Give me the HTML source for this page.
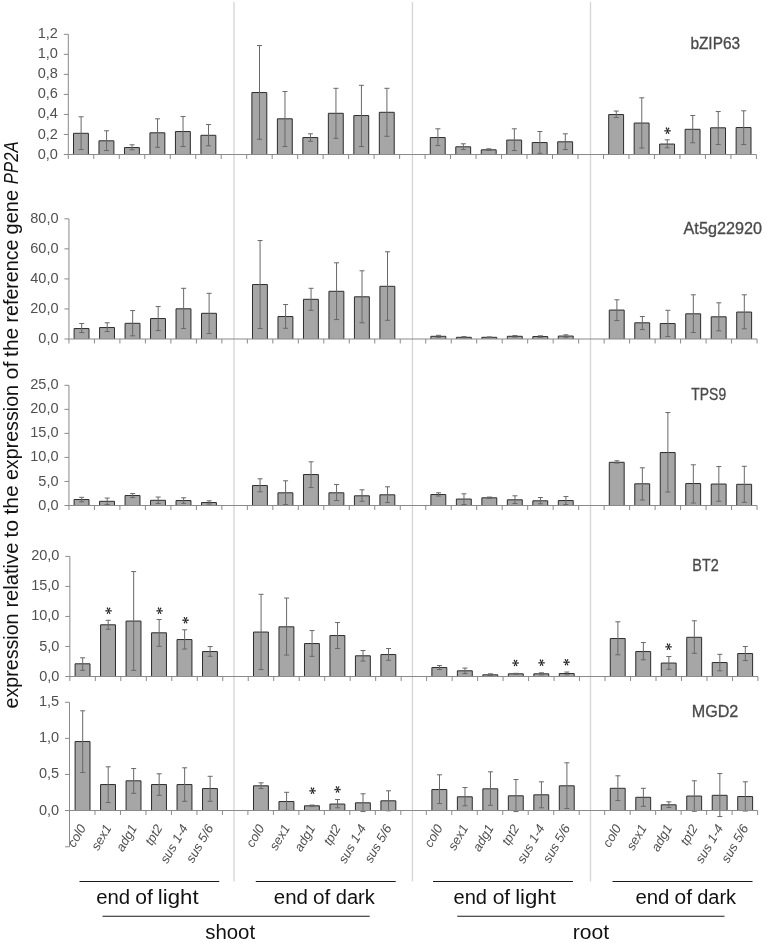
<!DOCTYPE html>
<html lang="en">
<head>
<meta charset="utf-8">
<title>Expression relative to PP2A</title>
<style>
html,body{margin:0;padding:0;background:#fff;}
body{width:767px;height:943px;overflow:hidden;font-family:"Liberation Sans",sans-serif;}
svg{display:block;}
</style>
</head>
<body>
<svg width="767" height="943" viewBox="0 0 767 943" font-family="'Liberation Sans', sans-serif">
<rect width="767" height="943" fill="#ffffff"/>
<line x1="234.0" y1="2" x2="234.0" y2="881.4" stroke="#d6d6d6" stroke-width="1.35"/>
<line x1="412.45" y1="2" x2="412.45" y2="881.4" stroke="#d6d6d6" stroke-width="1.35"/>
<line x1="590.5" y1="2" x2="590.5" y2="881.4" stroke="#d6d6d6" stroke-width="1.35"/>
<g>
<rect x="73.50" y="133.30" width="14.9" height="21.20" fill="#a6a6a6"/>
<path d="M73.50 154.50V133.30H88.40V154.50" stroke="#2c2c2c" stroke-width="1" fill="none" stroke-linejoin="miter"/>
<path d="M81.10 116.80V149.55M78.60 116.80h5M78.60 149.55h5" stroke="#686868" stroke-width="1" fill="none"/>
<rect x="98.98" y="140.80" width="14.9" height="13.70" fill="#a6a6a6"/>
<path d="M98.98 154.50V140.80H113.89V154.50" stroke="#2c2c2c" stroke-width="1" fill="none" stroke-linejoin="miter"/>
<path d="M106.59 130.80V150.55M104.09 130.80h5M104.09 150.55h5" stroke="#686868" stroke-width="1" fill="none"/>
<rect x="124.47" y="147.55" width="14.9" height="6.95" fill="#a6a6a6"/>
<path d="M124.47 154.50V147.55H139.37V154.50" stroke="#2c2c2c" stroke-width="1" fill="none" stroke-linejoin="miter"/>
<path d="M132.07 144.80V149.80M129.57 144.80h5M129.57 149.80h5" stroke="#686868" stroke-width="1" fill="none"/>
<rect x="149.95" y="132.80" width="14.9" height="21.70" fill="#a6a6a6"/>
<path d="M149.95 154.50V132.80H164.85V154.50" stroke="#2c2c2c" stroke-width="1" fill="none" stroke-linejoin="miter"/>
<path d="M157.55 118.80V147.30M155.05 118.80h5M155.05 147.30h5" stroke="#686868" stroke-width="1" fill="none"/>
<rect x="175.44" y="131.55" width="14.9" height="22.95" fill="#a6a6a6"/>
<path d="M175.44 154.50V131.55H190.34V154.50" stroke="#2c2c2c" stroke-width="1" fill="none" stroke-linejoin="miter"/>
<path d="M183.04 116.55V146.55M180.54 116.55h5M180.54 146.55h5" stroke="#686868" stroke-width="1" fill="none"/>
<rect x="200.93" y="135.30" width="14.9" height="19.20" fill="#a6a6a6"/>
<path d="M200.93 154.50V135.30H215.83V154.50" stroke="#2c2c2c" stroke-width="1" fill="none" stroke-linejoin="miter"/>
<path d="M208.53 124.55V145.80M206.03 124.55h5M206.03 145.80h5" stroke="#686868" stroke-width="1" fill="none"/>
<rect x="251.89" y="92.55" width="14.9" height="61.95" fill="#a6a6a6"/>
<path d="M251.89 154.50V92.55H266.79V154.50" stroke="#2c2c2c" stroke-width="1" fill="none" stroke-linejoin="miter"/>
<path d="M259.49 45.55V139.30M256.99 45.55h5M256.99 139.30h5" stroke="#686868" stroke-width="1" fill="none"/>
<rect x="277.38" y="118.80" width="14.9" height="35.70" fill="#a6a6a6"/>
<path d="M277.38 154.50V118.80H292.28V154.50" stroke="#2c2c2c" stroke-width="1" fill="none" stroke-linejoin="miter"/>
<path d="M284.98 91.55V146.55M282.48 91.55h5M282.48 146.55h5" stroke="#686868" stroke-width="1" fill="none"/>
<rect x="302.87" y="137.55" width="14.9" height="16.95" fill="#a6a6a6"/>
<path d="M302.87 154.50V137.55H317.76V154.50" stroke="#2c2c2c" stroke-width="1" fill="none" stroke-linejoin="miter"/>
<path d="M310.46 133.80V141.30M307.96 133.80h5M307.96 141.30h5" stroke="#686868" stroke-width="1" fill="none"/>
<rect x="328.35" y="113.30" width="14.9" height="41.20" fill="#a6a6a6"/>
<path d="M328.35 154.50V113.30H343.25V154.50" stroke="#2c2c2c" stroke-width="1" fill="none" stroke-linejoin="miter"/>
<path d="M335.95 88.30V138.30M333.45 88.30h5M333.45 138.30h5" stroke="#686868" stroke-width="1" fill="none"/>
<rect x="353.83" y="115.55" width="14.9" height="38.95" fill="#a6a6a6"/>
<path d="M353.83 154.50V115.55H368.73V154.50" stroke="#2c2c2c" stroke-width="1" fill="none" stroke-linejoin="miter"/>
<path d="M361.43 85.30V146.55M358.93 85.30h5M358.93 146.55h5" stroke="#686868" stroke-width="1" fill="none"/>
<rect x="379.32" y="112.30" width="14.9" height="42.20" fill="#a6a6a6"/>
<path d="M379.32 154.50V112.30H394.22V154.50" stroke="#2c2c2c" stroke-width="1" fill="none" stroke-linejoin="miter"/>
<path d="M386.92 88.30V136.30M384.42 88.30h5M384.42 136.30h5" stroke="#686868" stroke-width="1" fill="none"/>
<rect x="430.29" y="137.55" width="14.9" height="16.95" fill="#a6a6a6"/>
<path d="M430.29 154.50V137.55H445.19V154.50" stroke="#2c2c2c" stroke-width="1" fill="none" stroke-linejoin="miter"/>
<path d="M437.89 128.80V145.55M435.39 128.80h5M435.39 145.55h5" stroke="#686868" stroke-width="1" fill="none"/>
<rect x="455.77" y="146.80" width="14.9" height="7.70" fill="#a6a6a6"/>
<path d="M455.77 154.50V146.80H470.67V154.50" stroke="#2c2c2c" stroke-width="1" fill="none" stroke-linejoin="miter"/>
<path d="M463.37 143.80V149.55M460.87 143.80h5M460.87 149.55h5" stroke="#686868" stroke-width="1" fill="none"/>
<rect x="481.26" y="149.80" width="14.9" height="4.70" fill="#a6a6a6"/>
<path d="M481.26 154.50V149.80H496.16V154.50" stroke="#2c2c2c" stroke-width="1" fill="none" stroke-linejoin="miter"/>
<path d="M488.86 148.80V150.50M486.36 148.80h5M486.36 150.50h5" stroke="#686868" stroke-width="1" fill="none"/>
<rect x="506.75" y="140.05" width="14.9" height="14.45" fill="#a6a6a6"/>
<path d="M506.75 154.50V140.05H521.64V154.50" stroke="#2c2c2c" stroke-width="1" fill="none" stroke-linejoin="miter"/>
<path d="M514.35 128.80V150.55M511.85 128.80h5M511.85 150.55h5" stroke="#686868" stroke-width="1" fill="none"/>
<rect x="532.23" y="142.55" width="14.9" height="11.95" fill="#a6a6a6"/>
<path d="M532.23 154.50V142.55H547.13V154.50" stroke="#2c2c2c" stroke-width="1" fill="none" stroke-linejoin="miter"/>
<path d="M539.83 131.55V153.30M537.33 131.55h5M537.33 153.30h5" stroke="#686868" stroke-width="1" fill="none"/>
<rect x="557.71" y="141.80" width="14.9" height="12.70" fill="#a6a6a6"/>
<path d="M557.71 154.50V141.80H572.61V154.50" stroke="#2c2c2c" stroke-width="1" fill="none" stroke-linejoin="miter"/>
<path d="M565.31 133.80V149.55M562.81 133.80h5M562.81 149.55h5" stroke="#686868" stroke-width="1" fill="none"/>
<rect x="608.68" y="114.55" width="14.9" height="39.95" fill="#a6a6a6"/>
<path d="M608.68 154.50V114.55H623.58V154.50" stroke="#2c2c2c" stroke-width="1" fill="none" stroke-linejoin="miter"/>
<path d="M616.28 111.05V117.55M613.78 111.05h5M613.78 117.55h5" stroke="#686868" stroke-width="1" fill="none"/>
<rect x="634.17" y="123.05" width="14.9" height="31.45" fill="#a6a6a6"/>
<path d="M634.17 154.50V123.05H649.07V154.50" stroke="#2c2c2c" stroke-width="1" fill="none" stroke-linejoin="miter"/>
<path d="M641.77 97.80V148.05M639.27 97.80h5M639.27 148.05h5" stroke="#686868" stroke-width="1" fill="none"/>
<rect x="659.65" y="144.05" width="14.9" height="10.45" fill="#a6a6a6"/>
<path d="M659.65 154.50V144.05H674.55V154.50" stroke="#2c2c2c" stroke-width="1" fill="none" stroke-linejoin="miter"/>
<path d="M667.25 139.80V147.80M664.75 139.80h5M664.75 147.80h5" stroke="#686868" stroke-width="1" fill="none"/>
<rect x="685.14" y="129.30" width="14.9" height="25.20" fill="#a6a6a6"/>
<path d="M685.14 154.50V129.30H700.04V154.50" stroke="#2c2c2c" stroke-width="1" fill="none" stroke-linejoin="miter"/>
<path d="M692.74 115.55V142.80M690.24 115.55h5M690.24 142.80h5" stroke="#686868" stroke-width="1" fill="none"/>
<rect x="710.62" y="127.80" width="14.9" height="26.70" fill="#a6a6a6"/>
<path d="M710.62 154.50V127.80H725.52V154.50" stroke="#2c2c2c" stroke-width="1" fill="none" stroke-linejoin="miter"/>
<path d="M718.23 111.55V144.55M715.73 111.55h5M715.73 144.55h5" stroke="#686868" stroke-width="1" fill="none"/>
<rect x="736.11" y="127.55" width="14.9" height="26.95" fill="#a6a6a6"/>
<path d="M736.11 154.50V127.55H751.01V154.50" stroke="#2c2c2c" stroke-width="1" fill="none" stroke-linejoin="miter"/>
<path d="M743.71 110.80V144.55M741.21 110.80h5M741.21 144.55h5" stroke="#686868" stroke-width="1" fill="none"/>
<path d="M68.30 34.30V154.50M68.30 154.50H756.39M63.80 154.50h4.5M63.80 134.47h4.5M63.80 114.44h4.5M63.80 94.41h4.5M63.80 74.38h4.5M63.80 54.35h4.5M63.80 34.32h4.5M68.30 154.50v4.5M93.78 154.50v4.5M119.27 154.50v4.5M144.75 154.50v4.5M170.24 154.50v4.5M195.72 154.50v4.5M221.21 154.50v4.5M246.69 154.50v4.5M272.18 154.50v4.5M297.67 154.50v4.5M323.15 154.50v4.5M348.63 154.50v4.5M374.12 154.50v4.5M399.61 154.50v4.5M425.09 154.50v4.5M450.57 154.50v4.5M476.06 154.50v4.5M501.55 154.50v4.5M527.03 154.50v4.5M552.51 154.50v4.5M578.00 154.50v4.5M603.48 154.50v4.5M628.97 154.50v4.5M654.45 154.50v4.5M679.94 154.50v4.5M705.42 154.50v4.5M730.91 154.50v4.5M756.39 154.50v4.5" stroke="#8a8a8a" stroke-width="1" fill="none"/>
<text x="57.90" y="158.55" font-size="15.2" fill="#505050" text-anchor="end" textLength="20.22" lengthAdjust="spacingAndGlyphs">0,0</text>
<text x="57.90" y="138.52" font-size="15.2" fill="#505050" text-anchor="end" textLength="20.22" lengthAdjust="spacingAndGlyphs">0,2</text>
<text x="57.90" y="118.49" font-size="15.2" fill="#505050" text-anchor="end" textLength="20.22" lengthAdjust="spacingAndGlyphs">0,4</text>
<text x="57.90" y="98.46" font-size="15.2" fill="#505050" text-anchor="end" textLength="20.22" lengthAdjust="spacingAndGlyphs">0,6</text>
<text x="57.90" y="78.43" font-size="15.2" fill="#505050" text-anchor="end" textLength="20.22" lengthAdjust="spacingAndGlyphs">0,8</text>
<text x="57.90" y="58.40" font-size="15.2" fill="#505050" text-anchor="end" textLength="20.22" lengthAdjust="spacingAndGlyphs">1,0</text>
<text x="57.90" y="38.37" font-size="15.2" fill="#505050" text-anchor="end" textLength="20.22" lengthAdjust="spacingAndGlyphs">1,2</text>
</g>
<g>
<rect x="74.10" y="328.55" width="14.9" height="10.45" fill="#a6a6a6"/>
<path d="M74.10 339.00V328.55H89.00V339.00" stroke="#2c2c2c" stroke-width="1" fill="none" stroke-linejoin="miter"/>
<path d="M81.70 323.55V332.55M79.20 323.55h5M79.20 332.55h5" stroke="#686868" stroke-width="1" fill="none"/>
<rect x="99.58" y="327.55" width="14.9" height="11.45" fill="#a6a6a6"/>
<path d="M99.58 339.00V327.55H114.48V339.00" stroke="#2c2c2c" stroke-width="1" fill="none" stroke-linejoin="miter"/>
<path d="M107.19 322.80V331.55M104.69 322.80h5M104.69 331.55h5" stroke="#686868" stroke-width="1" fill="none"/>
<rect x="125.07" y="323.30" width="14.9" height="15.70" fill="#a6a6a6"/>
<path d="M125.07 339.00V323.30H139.97V339.00" stroke="#2c2c2c" stroke-width="1" fill="none" stroke-linejoin="miter"/>
<path d="M132.67 310.55V335.80M130.17 310.55h5M130.17 335.80h5" stroke="#686868" stroke-width="1" fill="none"/>
<rect x="150.56" y="318.55" width="14.9" height="20.45" fill="#a6a6a6"/>
<path d="M150.56 339.00V318.55H165.46V339.00" stroke="#2c2c2c" stroke-width="1" fill="none" stroke-linejoin="miter"/>
<path d="M158.16 306.55V330.55M155.66 306.55h5M155.66 330.55h5" stroke="#686868" stroke-width="1" fill="none"/>
<rect x="176.04" y="308.80" width="14.9" height="30.20" fill="#a6a6a6"/>
<path d="M176.04 339.00V308.80H190.94V339.00" stroke="#2c2c2c" stroke-width="1" fill="none" stroke-linejoin="miter"/>
<path d="M183.64 288.30V328.55M181.14 288.30h5M181.14 328.55h5" stroke="#686868" stroke-width="1" fill="none"/>
<rect x="201.52" y="313.30" width="14.9" height="25.70" fill="#a6a6a6"/>
<path d="M201.52 339.00V313.30H216.42V339.00" stroke="#2c2c2c" stroke-width="1" fill="none" stroke-linejoin="miter"/>
<path d="M209.12 293.30V333.55M206.62 293.30h5M206.62 333.55h5" stroke="#686868" stroke-width="1" fill="none"/>
<rect x="252.49" y="284.55" width="14.9" height="54.45" fill="#a6a6a6"/>
<path d="M252.49 339.00V284.55H267.39V339.00" stroke="#2c2c2c" stroke-width="1" fill="none" stroke-linejoin="miter"/>
<path d="M260.09 240.55V328.55M257.59 240.55h5M257.59 328.55h5" stroke="#686868" stroke-width="1" fill="none"/>
<rect x="277.98" y="316.55" width="14.9" height="22.45" fill="#a6a6a6"/>
<path d="M277.98 339.00V316.55H292.88V339.00" stroke="#2c2c2c" stroke-width="1" fill="none" stroke-linejoin="miter"/>
<path d="M285.58 304.55V328.30M283.08 304.55h5M283.08 328.30h5" stroke="#686868" stroke-width="1" fill="none"/>
<rect x="303.47" y="299.30" width="14.9" height="39.70" fill="#a6a6a6"/>
<path d="M303.47 339.00V299.30H318.37V339.00" stroke="#2c2c2c" stroke-width="1" fill="none" stroke-linejoin="miter"/>
<path d="M311.06 288.30V310.30M308.56 288.30h5M308.56 310.30h5" stroke="#686868" stroke-width="1" fill="none"/>
<rect x="328.95" y="291.30" width="14.9" height="47.70" fill="#a6a6a6"/>
<path d="M328.95 339.00V291.30H343.85V339.00" stroke="#2c2c2c" stroke-width="1" fill="none" stroke-linejoin="miter"/>
<path d="M336.55 262.80V319.55M334.05 262.80h5M334.05 319.55h5" stroke="#686868" stroke-width="1" fill="none"/>
<rect x="354.43" y="296.80" width="14.9" height="42.20" fill="#a6a6a6"/>
<path d="M354.43 339.00V296.80H369.33V339.00" stroke="#2c2c2c" stroke-width="1" fill="none" stroke-linejoin="miter"/>
<path d="M362.03 270.80V322.80M359.53 270.80h5M359.53 322.80h5" stroke="#686868" stroke-width="1" fill="none"/>
<rect x="379.92" y="286.30" width="14.9" height="52.70" fill="#a6a6a6"/>
<path d="M379.92 339.00V286.30H394.82V339.00" stroke="#2c2c2c" stroke-width="1" fill="none" stroke-linejoin="miter"/>
<path d="M387.52 251.80V320.30M385.02 251.80h5M385.02 320.30h5" stroke="#686868" stroke-width="1" fill="none"/>
<rect x="430.89" y="336.30" width="14.9" height="2.70" fill="#a6a6a6"/>
<path d="M430.89 339.00V336.30H445.79V339.00" stroke="#2c2c2c" stroke-width="1" fill="none" stroke-linejoin="miter"/>
<path d="M438.49 335.30V337.30M435.99 335.30h5M435.99 337.30h5" stroke="#686868" stroke-width="1" fill="none"/>
<rect x="456.38" y="337.30" width="14.9" height="1.70" fill="#a6a6a6"/>
<path d="M456.38 339.00V337.30H471.27V339.00" stroke="#2c2c2c" stroke-width="1" fill="none" stroke-linejoin="miter"/>
<path d="M463.97 336.55V337.80M461.47 336.55h5M461.47 337.80h5" stroke="#686868" stroke-width="1" fill="none"/>
<rect x="481.86" y="337.30" width="14.9" height="1.70" fill="#a6a6a6"/>
<path d="M481.86 339.00V337.30H496.76V339.00" stroke="#2c2c2c" stroke-width="1" fill="none" stroke-linejoin="miter"/>
<path d="M489.46 336.90V337.70M486.96 336.90h5M486.96 337.70h5" stroke="#686868" stroke-width="1" fill="none"/>
<rect x="507.35" y="336.30" width="14.9" height="2.70" fill="#a6a6a6"/>
<path d="M507.35 339.00V336.30H522.25V339.00" stroke="#2c2c2c" stroke-width="1" fill="none" stroke-linejoin="miter"/>
<path d="M514.95 335.55V337.05M512.45 335.55h5M512.45 337.05h5" stroke="#686868" stroke-width="1" fill="none"/>
<rect x="532.83" y="336.55" width="14.9" height="2.45" fill="#a6a6a6"/>
<path d="M532.83 339.00V336.55H547.73V339.00" stroke="#2c2c2c" stroke-width="1" fill="none" stroke-linejoin="miter"/>
<path d="M540.43 335.80V337.30M537.93 335.80h5M537.93 337.30h5" stroke="#686868" stroke-width="1" fill="none"/>
<rect x="558.31" y="336.05" width="14.9" height="2.95" fill="#a6a6a6"/>
<path d="M558.31 339.00V336.05H573.21V339.00" stroke="#2c2c2c" stroke-width="1" fill="none" stroke-linejoin="miter"/>
<path d="M565.91 334.80V337.30M563.41 334.80h5M563.41 337.30h5" stroke="#686868" stroke-width="1" fill="none"/>
<rect x="609.28" y="310.05" width="14.9" height="28.95" fill="#a6a6a6"/>
<path d="M609.28 339.00V310.05H624.18V339.00" stroke="#2c2c2c" stroke-width="1" fill="none" stroke-linejoin="miter"/>
<path d="M616.88 299.80V320.55M614.38 299.80h5M614.38 320.55h5" stroke="#686868" stroke-width="1" fill="none"/>
<rect x="634.77" y="322.80" width="14.9" height="16.20" fill="#a6a6a6"/>
<path d="M634.77 339.00V322.80H649.67V339.00" stroke="#2c2c2c" stroke-width="1" fill="none" stroke-linejoin="miter"/>
<path d="M642.37 316.55V329.55M639.87 316.55h5M639.87 329.55h5" stroke="#686868" stroke-width="1" fill="none"/>
<rect x="660.25" y="323.55" width="14.9" height="15.45" fill="#a6a6a6"/>
<path d="M660.25 339.00V323.55H675.15V339.00" stroke="#2c2c2c" stroke-width="1" fill="none" stroke-linejoin="miter"/>
<path d="M667.86 310.30V336.55M665.36 310.30h5M665.36 336.55h5" stroke="#686868" stroke-width="1" fill="none"/>
<rect x="685.74" y="313.80" width="14.9" height="25.20" fill="#a6a6a6"/>
<path d="M685.74 339.00V313.80H700.64V339.00" stroke="#2c2c2c" stroke-width="1" fill="none" stroke-linejoin="miter"/>
<path d="M693.34 294.80V332.55M690.84 294.80h5M690.84 332.55h5" stroke="#686868" stroke-width="1" fill="none"/>
<rect x="711.23" y="316.80" width="14.9" height="22.20" fill="#a6a6a6"/>
<path d="M711.23 339.00V316.80H726.12V339.00" stroke="#2c2c2c" stroke-width="1" fill="none" stroke-linejoin="miter"/>
<path d="M718.83 302.80V330.80M716.33 302.80h5M716.33 330.80h5" stroke="#686868" stroke-width="1" fill="none"/>
<rect x="736.71" y="312.05" width="14.9" height="26.95" fill="#a6a6a6"/>
<path d="M736.71 339.00V312.05H751.61V339.00" stroke="#2c2c2c" stroke-width="1" fill="none" stroke-linejoin="miter"/>
<path d="M744.31 294.80V328.80M741.81 294.80h5M741.81 328.80h5" stroke="#686868" stroke-width="1" fill="none"/>
<path d="M68.95 218.80V339.00M68.95 339.00H757.05M64.45 339.00h4.5M64.45 308.95h4.5M64.45 278.90h4.5M64.45 248.85h4.5M64.45 218.80h4.5M68.95 339.00v4.5M94.44 339.00v4.5M119.92 339.00v4.5M145.41 339.00v4.5M170.89 339.00v4.5M196.38 339.00v4.5M221.86 339.00v4.5M247.34 339.00v4.5M272.83 339.00v4.5M298.31 339.00v4.5M323.80 339.00v4.5M349.28 339.00v4.5M374.77 339.00v4.5M400.25 339.00v4.5M425.74 339.00v4.5M451.22 339.00v4.5M476.71 339.00v4.5M502.19 339.00v4.5M527.68 339.00v4.5M553.16 339.00v4.5M578.65 339.00v4.5M604.13 339.00v4.5M629.62 339.00v4.5M655.11 339.00v4.5M680.59 339.00v4.5M706.08 339.00v4.5M731.56 339.00v4.5M757.05 339.00v4.5" stroke="#8a8a8a" stroke-width="1" fill="none"/>
<text x="58.55" y="343.05" font-size="15.2" fill="#505050" text-anchor="end" textLength="20.22" lengthAdjust="spacingAndGlyphs">0,0</text>
<text x="58.55" y="313.00" font-size="15.2" fill="#505050" text-anchor="end" textLength="28.31" lengthAdjust="spacingAndGlyphs">20,0</text>
<text x="58.55" y="282.95" font-size="15.2" fill="#505050" text-anchor="end" textLength="28.31" lengthAdjust="spacingAndGlyphs">40,0</text>
<text x="58.55" y="252.90" font-size="15.2" fill="#505050" text-anchor="end" textLength="28.31" lengthAdjust="spacingAndGlyphs">60,0</text>
<text x="58.55" y="222.85" font-size="15.2" fill="#505050" text-anchor="end" textLength="28.31" lengthAdjust="spacingAndGlyphs">80,0</text>
</g>
<g>
<rect x="74.10" y="499.55" width="14.9" height="5.95" fill="#a6a6a6"/>
<path d="M74.10 505.50V499.55H89.00V505.50" stroke="#2c2c2c" stroke-width="1" fill="none" stroke-linejoin="miter"/>
<path d="M81.70 497.30V501.80M79.20 497.30h5M79.20 501.80h5" stroke="#686868" stroke-width="1" fill="none"/>
<rect x="99.58" y="501.30" width="14.9" height="4.20" fill="#a6a6a6"/>
<path d="M99.58 505.50V501.30H114.48V505.50" stroke="#2c2c2c" stroke-width="1" fill="none" stroke-linejoin="miter"/>
<path d="M107.19 498.05V504.55M104.69 498.05h5M104.69 504.55h5" stroke="#686868" stroke-width="1" fill="none"/>
<rect x="125.07" y="495.55" width="14.9" height="9.95" fill="#a6a6a6"/>
<path d="M125.07 505.50V495.55H139.97V505.50" stroke="#2c2c2c" stroke-width="1" fill="none" stroke-linejoin="miter"/>
<path d="M132.67 493.55V497.55M130.17 493.55h5M130.17 497.55h5" stroke="#686868" stroke-width="1" fill="none"/>
<rect x="150.56" y="500.30" width="14.9" height="5.20" fill="#a6a6a6"/>
<path d="M150.56 505.50V500.30H165.46V505.50" stroke="#2c2c2c" stroke-width="1" fill="none" stroke-linejoin="miter"/>
<path d="M158.16 497.05V503.55M155.66 497.05h5M155.66 503.55h5" stroke="#686868" stroke-width="1" fill="none"/>
<rect x="176.04" y="500.55" width="14.9" height="4.95" fill="#a6a6a6"/>
<path d="M176.04 505.50V500.55H190.94V505.50" stroke="#2c2c2c" stroke-width="1" fill="none" stroke-linejoin="miter"/>
<path d="M183.64 497.80V503.30M181.14 497.80h5M181.14 503.30h5" stroke="#686868" stroke-width="1" fill="none"/>
<rect x="201.52" y="502.55" width="14.9" height="2.95" fill="#a6a6a6"/>
<path d="M201.52 505.50V502.55H216.42V505.50" stroke="#2c2c2c" stroke-width="1" fill="none" stroke-linejoin="miter"/>
<path d="M209.12 500.80V504.05M206.62 500.80h5M206.62 504.05h5" stroke="#686868" stroke-width="1" fill="none"/>
<rect x="252.49" y="485.55" width="14.9" height="19.95" fill="#a6a6a6"/>
<path d="M252.49 505.50V485.55H267.39V505.50" stroke="#2c2c2c" stroke-width="1" fill="none" stroke-linejoin="miter"/>
<path d="M260.09 478.80V491.80M257.59 478.80h5M257.59 491.80h5" stroke="#686868" stroke-width="1" fill="none"/>
<rect x="277.98" y="492.80" width="14.9" height="12.70" fill="#a6a6a6"/>
<path d="M277.98 505.50V492.80H292.88V505.50" stroke="#2c2c2c" stroke-width="1" fill="none" stroke-linejoin="miter"/>
<path d="M285.58 480.80V504.55M283.08 480.80h5M283.08 504.55h5" stroke="#686868" stroke-width="1" fill="none"/>
<rect x="303.47" y="474.55" width="14.9" height="30.95" fill="#a6a6a6"/>
<path d="M303.47 505.50V474.55H318.37V505.50" stroke="#2c2c2c" stroke-width="1" fill="none" stroke-linejoin="miter"/>
<path d="M311.06 461.80V487.55M308.56 461.80h5M308.56 487.55h5" stroke="#686868" stroke-width="1" fill="none"/>
<rect x="328.95" y="492.80" width="14.9" height="12.70" fill="#a6a6a6"/>
<path d="M328.95 505.50V492.80H343.85V505.50" stroke="#2c2c2c" stroke-width="1" fill="none" stroke-linejoin="miter"/>
<path d="M336.55 484.55V500.55M334.05 484.55h5M334.05 500.55h5" stroke="#686868" stroke-width="1" fill="none"/>
<rect x="354.43" y="495.80" width="14.9" height="9.70" fill="#a6a6a6"/>
<path d="M354.43 505.50V495.80H369.33V505.50" stroke="#2c2c2c" stroke-width="1" fill="none" stroke-linejoin="miter"/>
<path d="M362.03 489.80V501.30M359.53 489.80h5M359.53 501.30h5" stroke="#686868" stroke-width="1" fill="none"/>
<rect x="379.92" y="494.80" width="14.9" height="10.70" fill="#a6a6a6"/>
<path d="M379.92 505.50V494.80H394.82V505.50" stroke="#2c2c2c" stroke-width="1" fill="none" stroke-linejoin="miter"/>
<path d="M387.52 486.80V502.55M385.02 486.80h5M385.02 502.55h5" stroke="#686868" stroke-width="1" fill="none"/>
<rect x="430.89" y="494.55" width="14.9" height="10.95" fill="#a6a6a6"/>
<path d="M430.89 505.50V494.55H445.79V505.50" stroke="#2c2c2c" stroke-width="1" fill="none" stroke-linejoin="miter"/>
<path d="M438.49 492.80V496.05M435.99 492.80h5M435.99 496.05h5" stroke="#686868" stroke-width="1" fill="none"/>
<rect x="456.38" y="499.05" width="14.9" height="6.45" fill="#a6a6a6"/>
<path d="M456.38 505.50V499.05H471.27V505.50" stroke="#2c2c2c" stroke-width="1" fill="none" stroke-linejoin="miter"/>
<path d="M463.97 493.80V504.55M461.47 493.80h5M461.47 504.55h5" stroke="#686868" stroke-width="1" fill="none"/>
<rect x="481.86" y="497.80" width="14.9" height="7.70" fill="#a6a6a6"/>
<path d="M481.86 505.50V497.80H496.76V505.50" stroke="#2c2c2c" stroke-width="1" fill="none" stroke-linejoin="miter"/>
<path d="M489.46 497.05V498.55M486.96 497.05h5M486.96 498.55h5" stroke="#686868" stroke-width="1" fill="none"/>
<rect x="507.35" y="499.80" width="14.9" height="5.70" fill="#a6a6a6"/>
<path d="M507.35 505.50V499.80H522.25V505.50" stroke="#2c2c2c" stroke-width="1" fill="none" stroke-linejoin="miter"/>
<path d="M514.95 495.80V503.55M512.45 495.80h5M512.45 503.55h5" stroke="#686868" stroke-width="1" fill="none"/>
<rect x="532.83" y="500.80" width="14.9" height="4.70" fill="#a6a6a6"/>
<path d="M532.83 505.50V500.80H547.73V505.50" stroke="#2c2c2c" stroke-width="1" fill="none" stroke-linejoin="miter"/>
<path d="M540.43 497.55V503.80M537.93 497.55h5M537.93 503.80h5" stroke="#686868" stroke-width="1" fill="none"/>
<rect x="558.31" y="500.55" width="14.9" height="4.95" fill="#a6a6a6"/>
<path d="M558.31 505.50V500.55H573.21V505.50" stroke="#2c2c2c" stroke-width="1" fill="none" stroke-linejoin="miter"/>
<path d="M565.91 496.55V504.55M563.41 496.55h5M563.41 504.55h5" stroke="#686868" stroke-width="1" fill="none"/>
<rect x="609.28" y="462.30" width="14.9" height="43.20" fill="#a6a6a6"/>
<path d="M609.28 505.50V462.30H624.18V505.50" stroke="#2c2c2c" stroke-width="1" fill="none" stroke-linejoin="miter"/>
<path d="M616.88 460.80V463.05M614.38 460.80h5M614.38 463.05h5" stroke="#686868" stroke-width="1" fill="none"/>
<rect x="634.77" y="483.80" width="14.9" height="21.70" fill="#a6a6a6"/>
<path d="M634.77 505.50V483.80H649.67V505.50" stroke="#2c2c2c" stroke-width="1" fill="none" stroke-linejoin="miter"/>
<path d="M642.37 467.80V500.05M639.87 467.80h5M639.87 500.05h5" stroke="#686868" stroke-width="1" fill="none"/>
<rect x="660.25" y="452.55" width="14.9" height="52.95" fill="#a6a6a6"/>
<path d="M660.25 505.50V452.55H675.15V505.50" stroke="#2c2c2c" stroke-width="1" fill="none" stroke-linejoin="miter"/>
<path d="M667.86 412.55V492.05M665.36 412.55h5M665.36 492.05h5" stroke="#686868" stroke-width="1" fill="none"/>
<rect x="685.74" y="483.55" width="14.9" height="21.95" fill="#a6a6a6"/>
<path d="M685.74 505.50V483.55H700.64V505.50" stroke="#2c2c2c" stroke-width="1" fill="none" stroke-linejoin="miter"/>
<path d="M693.34 464.80V503.05M690.84 464.80h5M690.84 503.05h5" stroke="#686868" stroke-width="1" fill="none"/>
<rect x="711.23" y="484.05" width="14.9" height="21.45" fill="#a6a6a6"/>
<path d="M711.23 505.50V484.05H726.12V505.50" stroke="#2c2c2c" stroke-width="1" fill="none" stroke-linejoin="miter"/>
<path d="M718.83 466.55V501.30M716.33 466.55h5M716.33 501.30h5" stroke="#686868" stroke-width="1" fill="none"/>
<rect x="736.71" y="484.30" width="14.9" height="21.20" fill="#a6a6a6"/>
<path d="M736.71 505.50V484.30H751.61V505.50" stroke="#2c2c2c" stroke-width="1" fill="none" stroke-linejoin="miter"/>
<path d="M744.31 466.30V502.30M741.81 466.30h5M741.81 502.30h5" stroke="#686868" stroke-width="1" fill="none"/>
<path d="M68.95 385.30V505.50M68.95 505.50H757.05M64.45 505.50h4.5M64.45 481.46h4.5M64.45 457.42h4.5M64.45 433.38h4.5M64.45 409.34h4.5M64.45 385.30h4.5M68.95 505.50v4.5M94.44 505.50v4.5M119.92 505.50v4.5M145.41 505.50v4.5M170.89 505.50v4.5M196.38 505.50v4.5M221.86 505.50v4.5M247.34 505.50v4.5M272.83 505.50v4.5M298.31 505.50v4.5M323.80 505.50v4.5M349.28 505.50v4.5M374.77 505.50v4.5M400.25 505.50v4.5M425.74 505.50v4.5M451.22 505.50v4.5M476.71 505.50v4.5M502.19 505.50v4.5M527.68 505.50v4.5M553.16 505.50v4.5M578.65 505.50v4.5M604.13 505.50v4.5M629.62 505.50v4.5M655.11 505.50v4.5M680.59 505.50v4.5M706.08 505.50v4.5M731.56 505.50v4.5M757.05 505.50v4.5" stroke="#8a8a8a" stroke-width="1" fill="none"/>
<text x="58.55" y="509.55" font-size="15.2" fill="#505050" text-anchor="end" textLength="20.22" lengthAdjust="spacingAndGlyphs">0,0</text>
<text x="58.55" y="485.51" font-size="15.2" fill="#505050" text-anchor="end" textLength="20.22" lengthAdjust="spacingAndGlyphs">5,0</text>
<text x="58.55" y="461.47" font-size="15.2" fill="#505050" text-anchor="end" textLength="28.31" lengthAdjust="spacingAndGlyphs">10,0</text>
<text x="58.55" y="437.43" font-size="15.2" fill="#505050" text-anchor="end" textLength="28.31" lengthAdjust="spacingAndGlyphs">15,0</text>
<text x="58.55" y="413.39" font-size="15.2" fill="#505050" text-anchor="end" textLength="28.31" lengthAdjust="spacingAndGlyphs">20,0</text>
<text x="58.55" y="389.35" font-size="15.2" fill="#505050" text-anchor="end" textLength="28.31" lengthAdjust="spacingAndGlyphs">25,0</text>
</g>
<g>
<rect x="75.10" y="663.80" width="14.9" height="12.70" fill="#a6a6a6"/>
<path d="M75.10 676.50V663.80H90.00V676.50" stroke="#2c2c2c" stroke-width="1" fill="none" stroke-linejoin="miter"/>
<path d="M82.70 657.80V670.30M80.20 657.80h5M80.20 670.30h5" stroke="#686868" stroke-width="1" fill="none"/>
<rect x="100.58" y="624.80" width="14.9" height="51.70" fill="#a6a6a6"/>
<path d="M100.58 676.50V624.80H115.48V676.50" stroke="#2c2c2c" stroke-width="1" fill="none" stroke-linejoin="miter"/>
<path d="M108.19 620.30V629.30M105.69 620.30h5M105.69 629.30h5" stroke="#686868" stroke-width="1" fill="none"/>
<rect x="126.07" y="621.05" width="14.9" height="55.45" fill="#a6a6a6"/>
<path d="M126.07 676.50V621.05H140.97V676.50" stroke="#2c2c2c" stroke-width="1" fill="none" stroke-linejoin="miter"/>
<path d="M133.67 571.55V670.30M131.17 571.55h5M131.17 670.30h5" stroke="#686868" stroke-width="1" fill="none"/>
<rect x="151.56" y="632.80" width="14.9" height="43.70" fill="#a6a6a6"/>
<path d="M151.56 676.50V632.80H166.46V676.50" stroke="#2c2c2c" stroke-width="1" fill="none" stroke-linejoin="miter"/>
<path d="M159.16 619.55V646.30M156.66 619.55h5M156.66 646.30h5" stroke="#686868" stroke-width="1" fill="none"/>
<rect x="177.04" y="639.55" width="14.9" height="36.95" fill="#a6a6a6"/>
<path d="M177.04 676.50V639.55H191.94V676.50" stroke="#2c2c2c" stroke-width="1" fill="none" stroke-linejoin="miter"/>
<path d="M184.64 629.80V649.05M182.14 629.80h5M182.14 649.05h5" stroke="#686868" stroke-width="1" fill="none"/>
<rect x="202.52" y="651.55" width="14.9" height="24.95" fill="#a6a6a6"/>
<path d="M202.52 676.50V651.55H217.42V676.50" stroke="#2c2c2c" stroke-width="1" fill="none" stroke-linejoin="miter"/>
<path d="M210.12 646.55V656.30M207.62 646.55h5M207.62 656.30h5" stroke="#686868" stroke-width="1" fill="none"/>
<rect x="253.49" y="632.05" width="14.9" height="44.45" fill="#a6a6a6"/>
<path d="M253.49 676.50V632.05H268.39V676.50" stroke="#2c2c2c" stroke-width="1" fill="none" stroke-linejoin="miter"/>
<path d="M261.09 594.30V669.55M258.59 594.30h5M258.59 669.55h5" stroke="#686868" stroke-width="1" fill="none"/>
<rect x="278.98" y="626.80" width="14.9" height="49.70" fill="#a6a6a6"/>
<path d="M278.98 676.50V626.80H293.88V676.50" stroke="#2c2c2c" stroke-width="1" fill="none" stroke-linejoin="miter"/>
<path d="M286.58 598.05V655.05M284.08 598.05h5M284.08 655.05h5" stroke="#686868" stroke-width="1" fill="none"/>
<rect x="304.47" y="643.55" width="14.9" height="32.95" fill="#a6a6a6"/>
<path d="M304.47 676.50V643.55H319.37V676.50" stroke="#2c2c2c" stroke-width="1" fill="none" stroke-linejoin="miter"/>
<path d="M312.06 630.55V656.30M309.56 630.55h5M309.56 656.30h5" stroke="#686868" stroke-width="1" fill="none"/>
<rect x="329.95" y="635.55" width="14.9" height="40.95" fill="#a6a6a6"/>
<path d="M329.95 676.50V635.55H344.85V676.50" stroke="#2c2c2c" stroke-width="1" fill="none" stroke-linejoin="miter"/>
<path d="M337.55 622.55V648.55M335.05 622.55h5M335.05 648.55h5" stroke="#686868" stroke-width="1" fill="none"/>
<rect x="355.43" y="655.80" width="14.9" height="20.70" fill="#a6a6a6"/>
<path d="M355.43 676.50V655.80H370.33V676.50" stroke="#2c2c2c" stroke-width="1" fill="none" stroke-linejoin="miter"/>
<path d="M363.03 650.55V661.05M360.53 650.55h5M360.53 661.05h5" stroke="#686868" stroke-width="1" fill="none"/>
<rect x="380.92" y="654.55" width="14.9" height="21.95" fill="#a6a6a6"/>
<path d="M380.92 676.50V654.55H395.82V676.50" stroke="#2c2c2c" stroke-width="1" fill="none" stroke-linejoin="miter"/>
<path d="M388.52 648.55V660.30M386.02 648.55h5M386.02 660.30h5" stroke="#686868" stroke-width="1" fill="none"/>
<rect x="431.89" y="667.55" width="14.9" height="8.95" fill="#a6a6a6"/>
<path d="M431.89 676.50V667.55H446.79V676.50" stroke="#2c2c2c" stroke-width="1" fill="none" stroke-linejoin="miter"/>
<path d="M439.49 665.55V669.55M436.99 665.55h5M436.99 669.55h5" stroke="#686868" stroke-width="1" fill="none"/>
<rect x="457.38" y="670.80" width="14.9" height="5.70" fill="#a6a6a6"/>
<path d="M457.38 676.50V670.80H472.27V676.50" stroke="#2c2c2c" stroke-width="1" fill="none" stroke-linejoin="miter"/>
<path d="M464.97 668.05V673.55M462.47 668.05h5M462.47 673.55h5" stroke="#686868" stroke-width="1" fill="none"/>
<rect x="482.86" y="674.80" width="14.9" height="1.70" fill="#a6a6a6"/>
<path d="M482.86 676.50V674.80H497.76V676.50" stroke="#2c2c2c" stroke-width="1" fill="none" stroke-linejoin="miter"/>
<path d="M490.46 673.80V675.55M487.96 673.80h5M487.96 675.55h5" stroke="#686868" stroke-width="1" fill="none"/>
<rect x="508.35" y="673.80" width="14.9" height="2.70" fill="#a6a6a6"/>
<path d="M508.35 676.50V673.80H523.25V676.50" stroke="#2c2c2c" stroke-width="1" fill="none" stroke-linejoin="miter"/>
<path d="M515.95 673.30V674.30M513.45 673.30h5M513.45 674.30h5" stroke="#686868" stroke-width="1" fill="none"/>
<rect x="533.83" y="673.80" width="14.9" height="2.70" fill="#a6a6a6"/>
<path d="M533.83 676.50V673.80H548.73V676.50" stroke="#2c2c2c" stroke-width="1" fill="none" stroke-linejoin="miter"/>
<path d="M541.43 672.80V674.80M538.93 672.80h5M538.93 674.80h5" stroke="#686868" stroke-width="1" fill="none"/>
<rect x="559.31" y="673.55" width="14.9" height="2.95" fill="#a6a6a6"/>
<path d="M559.31 676.50V673.55H574.21V676.50" stroke="#2c2c2c" stroke-width="1" fill="none" stroke-linejoin="miter"/>
<path d="M566.91 672.05V674.80M564.41 672.05h5M564.41 674.80h5" stroke="#686868" stroke-width="1" fill="none"/>
<rect x="610.28" y="638.55" width="14.9" height="37.95" fill="#a6a6a6"/>
<path d="M610.28 676.50V638.55H625.18V676.50" stroke="#2c2c2c" stroke-width="1" fill="none" stroke-linejoin="miter"/>
<path d="M617.88 621.80V654.80M615.38 621.80h5M615.38 654.80h5" stroke="#686868" stroke-width="1" fill="none"/>
<rect x="635.77" y="651.55" width="14.9" height="24.95" fill="#a6a6a6"/>
<path d="M635.77 676.50V651.55H650.67V676.50" stroke="#2c2c2c" stroke-width="1" fill="none" stroke-linejoin="miter"/>
<path d="M643.37 642.55V659.80M640.87 642.55h5M640.87 659.80h5" stroke="#686868" stroke-width="1" fill="none"/>
<rect x="661.25" y="663.05" width="14.9" height="13.45" fill="#a6a6a6"/>
<path d="M661.25 676.50V663.05H676.15V676.50" stroke="#2c2c2c" stroke-width="1" fill="none" stroke-linejoin="miter"/>
<path d="M668.86 656.55V669.30M666.36 656.55h5M666.36 669.30h5" stroke="#686868" stroke-width="1" fill="none"/>
<rect x="686.74" y="637.30" width="14.9" height="39.20" fill="#a6a6a6"/>
<path d="M686.74 676.50V637.30H701.64V676.50" stroke="#2c2c2c" stroke-width="1" fill="none" stroke-linejoin="miter"/>
<path d="M694.34 620.80V653.30M691.84 620.80h5M691.84 653.30h5" stroke="#686868" stroke-width="1" fill="none"/>
<rect x="712.23" y="662.55" width="14.9" height="13.95" fill="#a6a6a6"/>
<path d="M712.23 676.50V662.55H727.12V676.50" stroke="#2c2c2c" stroke-width="1" fill="none" stroke-linejoin="miter"/>
<path d="M719.83 654.30V670.80M717.33 654.30h5M717.33 670.80h5" stroke="#686868" stroke-width="1" fill="none"/>
<rect x="737.71" y="653.55" width="14.9" height="22.95" fill="#a6a6a6"/>
<path d="M737.71 676.50V653.55H752.61V676.50" stroke="#2c2c2c" stroke-width="1" fill="none" stroke-linejoin="miter"/>
<path d="M745.31 646.55V660.55M742.81 646.55h5M742.81 660.55h5" stroke="#686868" stroke-width="1" fill="none"/>
<path d="M69.85 556.40V676.50M69.85 676.50H757.95M65.35 676.50h4.5M65.35 646.47h4.5M65.35 616.44h4.5M65.35 586.41h4.5M65.35 556.38h4.5M69.85 676.50v4.5M95.33 676.50v4.5M120.82 676.50v4.5M146.31 676.50v4.5M171.79 676.50v4.5M197.27 676.50v4.5M222.76 676.50v4.5M248.24 676.50v4.5M273.73 676.50v4.5M299.22 676.50v4.5M324.70 676.50v4.5M350.18 676.50v4.5M375.67 676.50v4.5M401.15 676.50v4.5M426.64 676.50v4.5M452.12 676.50v4.5M477.61 676.50v4.5M503.10 676.50v4.5M528.58 676.50v4.5M554.06 676.50v4.5M579.55 676.50v4.5M605.03 676.50v4.5M630.52 676.50v4.5M656.00 676.50v4.5M681.49 676.50v4.5M706.98 676.50v4.5M732.46 676.50v4.5M757.95 676.50v4.5" stroke="#8a8a8a" stroke-width="1" fill="none"/>
<text x="59.45" y="680.55" font-size="15.2" fill="#505050" text-anchor="end" textLength="20.22" lengthAdjust="spacingAndGlyphs">0,0</text>
<text x="59.45" y="650.52" font-size="15.2" fill="#505050" text-anchor="end" textLength="20.22" lengthAdjust="spacingAndGlyphs">5,0</text>
<text x="59.45" y="620.49" font-size="15.2" fill="#505050" text-anchor="end" textLength="28.31" lengthAdjust="spacingAndGlyphs">10,0</text>
<text x="59.45" y="590.46" font-size="15.2" fill="#505050" text-anchor="end" textLength="28.31" lengthAdjust="spacingAndGlyphs">15,0</text>
<text x="59.45" y="560.43" font-size="15.2" fill="#505050" text-anchor="end" textLength="28.31" lengthAdjust="spacingAndGlyphs">20,0</text>
</g>
<g>
<rect x="75.10" y="741.55" width="14.9" height="68.95" fill="#a6a6a6"/>
<path d="M75.10 810.50V741.55H90.00V810.50" stroke="#2c2c2c" stroke-width="1" fill="none" stroke-linejoin="miter"/>
<path d="M82.70 710.80V772.55M80.20 710.80h5M80.20 772.55h5" stroke="#686868" stroke-width="1" fill="none"/>
<rect x="100.58" y="784.55" width="14.9" height="25.95" fill="#a6a6a6"/>
<path d="M100.58 810.50V784.55H115.48V810.50" stroke="#2c2c2c" stroke-width="1" fill="none" stroke-linejoin="miter"/>
<path d="M108.19 766.80V802.55M105.69 766.80h5M105.69 802.55h5" stroke="#686868" stroke-width="1" fill="none"/>
<rect x="126.07" y="780.80" width="14.9" height="29.70" fill="#a6a6a6"/>
<path d="M126.07 810.50V780.80H140.97V810.50" stroke="#2c2c2c" stroke-width="1" fill="none" stroke-linejoin="miter"/>
<path d="M133.67 768.55V793.30M131.17 768.55h5M131.17 793.30h5" stroke="#686868" stroke-width="1" fill="none"/>
<rect x="151.56" y="784.55" width="14.9" height="25.95" fill="#a6a6a6"/>
<path d="M151.56 810.50V784.55H166.46V810.50" stroke="#2c2c2c" stroke-width="1" fill="none" stroke-linejoin="miter"/>
<path d="M159.16 773.80V795.30M156.66 773.80h5M156.66 795.30h5" stroke="#686868" stroke-width="1" fill="none"/>
<rect x="177.04" y="784.55" width="14.9" height="25.95" fill="#a6a6a6"/>
<path d="M177.04 810.50V784.55H191.94V810.50" stroke="#2c2c2c" stroke-width="1" fill="none" stroke-linejoin="miter"/>
<path d="M184.64 767.80V801.30M182.14 767.80h5M182.14 801.30h5" stroke="#686868" stroke-width="1" fill="none"/>
<rect x="202.52" y="788.55" width="14.9" height="21.95" fill="#a6a6a6"/>
<path d="M202.52 810.50V788.55H217.42V810.50" stroke="#2c2c2c" stroke-width="1" fill="none" stroke-linejoin="miter"/>
<path d="M210.12 776.30V801.30M207.62 776.30h5M207.62 801.30h5" stroke="#686868" stroke-width="1" fill="none"/>
<rect x="253.49" y="785.80" width="14.9" height="24.70" fill="#a6a6a6"/>
<path d="M253.49 810.50V785.80H268.39V810.50" stroke="#2c2c2c" stroke-width="1" fill="none" stroke-linejoin="miter"/>
<path d="M261.09 782.80V788.55M258.59 782.80h5M258.59 788.55h5" stroke="#686868" stroke-width="1" fill="none"/>
<rect x="278.98" y="801.55" width="14.9" height="8.95" fill="#a6a6a6"/>
<path d="M278.98 810.50V801.55H293.88V810.50" stroke="#2c2c2c" stroke-width="1" fill="none" stroke-linejoin="miter"/>
<path d="M286.58 792.30V810.30M284.08 792.30h5M284.08 810.30h5" stroke="#686868" stroke-width="1" fill="none"/>
<rect x="304.47" y="805.80" width="14.9" height="4.70" fill="#a6a6a6"/>
<path d="M304.47 810.50V805.80H319.37V810.50" stroke="#2c2c2c" stroke-width="1" fill="none" stroke-linejoin="miter"/>
<path d="M312.06 805.05V806.55M309.56 805.05h5M309.56 806.55h5" stroke="#686868" stroke-width="1" fill="none"/>
<rect x="329.95" y="804.05" width="14.9" height="6.45" fill="#a6a6a6"/>
<path d="M329.95 810.50V804.05H344.85V810.50" stroke="#2c2c2c" stroke-width="1" fill="none" stroke-linejoin="miter"/>
<path d="M337.55 799.55V807.80M335.05 799.55h5M335.05 807.80h5" stroke="#686868" stroke-width="1" fill="none"/>
<rect x="355.43" y="802.80" width="14.9" height="7.70" fill="#a6a6a6"/>
<path d="M355.43 810.50V802.80H370.33V810.50" stroke="#2c2c2c" stroke-width="1" fill="none" stroke-linejoin="miter"/>
<path d="M363.03 793.80V811.55M360.53 793.80h5M360.53 811.55h5" stroke="#686868" stroke-width="1" fill="none"/>
<rect x="380.92" y="800.80" width="14.9" height="9.70" fill="#a6a6a6"/>
<path d="M380.92 810.50V800.80H395.82V810.50" stroke="#2c2c2c" stroke-width="1" fill="none" stroke-linejoin="miter"/>
<path d="M388.52 790.80V810.80M386.02 790.80h5M386.02 810.80h5" stroke="#686868" stroke-width="1" fill="none"/>
<rect x="431.89" y="789.55" width="14.9" height="20.95" fill="#a6a6a6"/>
<path d="M431.89 810.50V789.55H446.79V810.50" stroke="#2c2c2c" stroke-width="1" fill="none" stroke-linejoin="miter"/>
<path d="M439.49 774.80V803.55M436.99 774.80h5M436.99 803.55h5" stroke="#686868" stroke-width="1" fill="none"/>
<rect x="457.38" y="796.80" width="14.9" height="13.70" fill="#a6a6a6"/>
<path d="M457.38 810.50V796.80H472.27V810.50" stroke="#2c2c2c" stroke-width="1" fill="none" stroke-linejoin="miter"/>
<path d="M464.97 787.55V805.80M462.47 787.55h5M462.47 805.80h5" stroke="#686868" stroke-width="1" fill="none"/>
<rect x="482.86" y="788.80" width="14.9" height="21.70" fill="#a6a6a6"/>
<path d="M482.86 810.50V788.80H497.76V810.50" stroke="#2c2c2c" stroke-width="1" fill="none" stroke-linejoin="miter"/>
<path d="M490.46 771.80V805.30M487.96 771.80h5M487.96 805.30h5" stroke="#686868" stroke-width="1" fill="none"/>
<rect x="508.35" y="795.80" width="14.9" height="14.70" fill="#a6a6a6"/>
<path d="M508.35 810.50V795.80H523.25V810.50" stroke="#2c2c2c" stroke-width="1" fill="none" stroke-linejoin="miter"/>
<path d="M515.95 779.55V811.55M513.45 779.55h5M513.45 811.55h5" stroke="#686868" stroke-width="1" fill="none"/>
<rect x="533.83" y="794.80" width="14.9" height="15.70" fill="#a6a6a6"/>
<path d="M533.83 810.50V794.80H548.73V810.50" stroke="#2c2c2c" stroke-width="1" fill="none" stroke-linejoin="miter"/>
<path d="M541.43 781.80V807.80M538.93 781.80h5M538.93 807.80h5" stroke="#686868" stroke-width="1" fill="none"/>
<rect x="559.31" y="785.80" width="14.9" height="24.70" fill="#a6a6a6"/>
<path d="M559.31 810.50V785.80H574.21V810.50" stroke="#2c2c2c" stroke-width="1" fill="none" stroke-linejoin="miter"/>
<path d="M566.91 762.80V808.55M564.41 762.80h5M564.41 808.55h5" stroke="#686868" stroke-width="1" fill="none"/>
<rect x="610.28" y="788.30" width="14.9" height="22.20" fill="#a6a6a6"/>
<path d="M610.28 810.50V788.30H625.18V810.50" stroke="#2c2c2c" stroke-width="1" fill="none" stroke-linejoin="miter"/>
<path d="M617.88 775.80V800.55M615.38 775.80h5M615.38 800.55h5" stroke="#686868" stroke-width="1" fill="none"/>
<rect x="635.77" y="797.30" width="14.9" height="13.20" fill="#a6a6a6"/>
<path d="M635.77 810.50V797.30H650.67V810.50" stroke="#2c2c2c" stroke-width="1" fill="none" stroke-linejoin="miter"/>
<path d="M643.37 788.30V806.30M640.87 788.30h5M640.87 806.30h5" stroke="#686868" stroke-width="1" fill="none"/>
<rect x="661.25" y="804.80" width="14.9" height="5.70" fill="#a6a6a6"/>
<path d="M661.25 810.50V804.80H676.15V810.50" stroke="#2c2c2c" stroke-width="1" fill="none" stroke-linejoin="miter"/>
<path d="M668.86 801.80V807.55M666.36 801.80h5M666.36 807.55h5" stroke="#686868" stroke-width="1" fill="none"/>
<rect x="686.74" y="796.05" width="14.9" height="14.45" fill="#a6a6a6"/>
<path d="M686.74 810.50V796.05H701.64V810.50" stroke="#2c2c2c" stroke-width="1" fill="none" stroke-linejoin="miter"/>
<path d="M694.34 780.80V811.30M691.84 780.80h5M691.84 811.30h5" stroke="#686868" stroke-width="1" fill="none"/>
<rect x="712.23" y="795.30" width="14.9" height="15.20" fill="#a6a6a6"/>
<path d="M712.23 810.50V795.30H727.12V810.50" stroke="#2c2c2c" stroke-width="1" fill="none" stroke-linejoin="miter"/>
<path d="M719.83 773.55V816.55M717.33 773.55h5M717.33 816.55h5" stroke="#686868" stroke-width="1" fill="none"/>
<rect x="737.71" y="796.55" width="14.9" height="13.95" fill="#a6a6a6"/>
<path d="M737.71 810.50V796.55H752.61V810.50" stroke="#2c2c2c" stroke-width="1" fill="none" stroke-linejoin="miter"/>
<path d="M745.31 781.80V811.05M742.81 781.80h5M742.81 811.05h5" stroke="#686868" stroke-width="1" fill="none"/>
<path d="M69.50 702.30V846.80M69.50 810.50H757.60M65.00 810.50h4.5M65.00 774.43h4.5M65.00 738.36h4.5M65.00 702.29h4.5M65.00 846.80h4.5M69.50 810.50v4.5M94.98 810.50v4.5M120.47 810.50v4.5M145.95 810.50v4.5M171.44 810.50v4.5M196.93 810.50v4.5M222.41 810.50v4.5M247.89 810.50v4.5M273.38 810.50v4.5M298.87 810.50v4.5M324.35 810.50v4.5M349.83 810.50v4.5M375.32 810.50v4.5M400.81 810.50v4.5M426.29 810.50v4.5M451.77 810.50v4.5M477.26 810.50v4.5M502.75 810.50v4.5M528.23 810.50v4.5M553.71 810.50v4.5M579.20 810.50v4.5M604.68 810.50v4.5M630.17 810.50v4.5M655.65 810.50v4.5M681.14 810.50v4.5M706.62 810.50v4.5M732.11 810.50v4.5M757.60 810.50v4.5" stroke="#8a8a8a" stroke-width="1" fill="none"/>
<text x="59.10" y="814.55" font-size="15.2" fill="#505050" text-anchor="end" textLength="20.22" lengthAdjust="spacingAndGlyphs">0,0</text>
<text x="59.10" y="778.48" font-size="15.2" fill="#505050" text-anchor="end" textLength="20.22" lengthAdjust="spacingAndGlyphs">0,5</text>
<text x="59.10" y="742.41" font-size="15.2" fill="#505050" text-anchor="end" textLength="20.22" lengthAdjust="spacingAndGlyphs">1,0</text>
<text x="59.10" y="706.34" font-size="15.2" fill="#505050" text-anchor="end" textLength="20.22" lengthAdjust="spacingAndGlyphs">1,5</text>
</g>
<text transform="translate(667.30 130.65) rotate(90)" text-rendering="geometricPrecision" x="-3.98" y="7.56" font-family="'Liberation Serif', serif" font-size="16" fill="#161616" stroke="#161616" stroke-width="0.15">*</text>
<text transform="translate(108.30 610.65) rotate(90)" text-rendering="geometricPrecision" x="-3.98" y="7.56" font-family="'Liberation Serif', serif" font-size="16" fill="#161616" stroke="#161616" stroke-width="0.15">*</text>
<text transform="translate(159.30 610.65) rotate(90)" text-rendering="geometricPrecision" x="-3.98" y="7.56" font-family="'Liberation Serif', serif" font-size="16" fill="#161616" stroke="#161616" stroke-width="0.15">*</text>
<text transform="translate(185.55 620.15) rotate(90)" text-rendering="geometricPrecision" x="-3.98" y="7.56" font-family="'Liberation Serif', serif" font-size="16" fill="#161616" stroke="#161616" stroke-width="0.15">*</text>
<text transform="translate(515.30 662.90) rotate(90)" text-rendering="geometricPrecision" x="-3.98" y="7.56" font-family="'Liberation Serif', serif" font-size="16" fill="#161616" stroke="#161616" stroke-width="0.15">*</text>
<text transform="translate(541.55 662.65) rotate(90)" text-rendering="geometricPrecision" x="-3.98" y="7.56" font-family="'Liberation Serif', serif" font-size="16" fill="#161616" stroke="#161616" stroke-width="0.15">*</text>
<text transform="translate(567.05 662.15) rotate(90)" text-rendering="geometricPrecision" x="-3.98" y="7.56" font-family="'Liberation Serif', serif" font-size="16" fill="#161616" stroke="#161616" stroke-width="0.15">*</text>
<text transform="translate(668.30 646.65) rotate(90)" text-rendering="geometricPrecision" x="-3.98" y="7.56" font-family="'Liberation Serif', serif" font-size="16" fill="#161616" stroke="#161616" stroke-width="0.15">*</text>
<text transform="translate(312.30 790.65) rotate(90)" text-rendering="geometricPrecision" x="-3.98" y="7.56" font-family="'Liberation Serif', serif" font-size="16" fill="#161616" stroke="#161616" stroke-width="0.15">*</text>
<text transform="translate(337.55 789.40) rotate(90)" text-rendering="geometricPrecision" x="-3.98" y="7.56" font-family="'Liberation Serif', serif" font-size="16" fill="#161616" stroke="#161616" stroke-width="0.15">*</text>
<text x="96.20" y="903.90" font-size="20" fill="#111111" textLength="33.92" lengthAdjust="spacingAndGlyphs">end</text>
<text x="135.33" y="903.90" font-size="20" fill="#111111" textLength="17.59" lengthAdjust="spacingAndGlyphs">of</text>
<text x="157.88" y="903.90" font-size="20" fill="#111111" textLength="40.68" lengthAdjust="spacingAndGlyphs">light</text>
<text x="453.57" y="903.90" font-size="20" fill="#111111" textLength="33.47" lengthAdjust="spacingAndGlyphs">end</text>
<text x="492.69" y="903.90" font-size="20" fill="#111111" textLength="17.53" lengthAdjust="spacingAndGlyphs">of</text>
<text x="515.21" y="903.90" font-size="20" fill="#111111" textLength="40.66" lengthAdjust="spacingAndGlyphs">light</text>
<text x="273.77" y="903.90" font-size="20" fill="#111111" textLength="34.14" lengthAdjust="spacingAndGlyphs">end</text>
<text x="312.97" y="903.90" font-size="20" fill="#111111" textLength="17.31" lengthAdjust="spacingAndGlyphs">of</text>
<text x="335.77" y="903.90" font-size="20" fill="#111111" textLength="39.03" lengthAdjust="spacingAndGlyphs">dark</text>
<text x="635.48" y="903.90" font-size="20" fill="#111111" textLength="33.99" lengthAdjust="spacingAndGlyphs">end</text>
<text x="674.58" y="903.90" font-size="20" fill="#111111" textLength="17.47" lengthAdjust="spacingAndGlyphs">of</text>
<text x="697.24" y="903.90" font-size="20" fill="#111111" textLength="38.87" lengthAdjust="spacingAndGlyphs">dark</text>
<text x="205.25" y="939.00" font-size="20" fill="#111111" textLength="49.88" lengthAdjust="spacingAndGlyphs">shoot</text>
<text x="572.66" y="939.00" font-size="20" fill="#111111" textLength="36.39" lengthAdjust="spacingAndGlyphs">root</text>
<text x="690.39" y="48.60" font-size="15.7" fill="#4a4a4a" stroke="#4a4a4a" stroke-width="0.3" textLength="49.74" lengthAdjust="spacingAndGlyphs">bZIP63</text>
<text x="683.55" y="233.60" font-size="15.7" fill="#4a4a4a" stroke="#4a4a4a" stroke-width="0.3" textLength="78.52" lengthAdjust="spacingAndGlyphs">At5g22920</text>
<text x="691.37" y="399.90" font-size="15.7" fill="#4a4a4a" stroke="#4a4a4a" stroke-width="0.3" textLength="34.74" lengthAdjust="spacingAndGlyphs">TPS9</text>
<text x="692.34" y="571.10" font-size="15.7" fill="#4a4a4a" stroke="#4a4a4a" stroke-width="0.3" textLength="26.34" lengthAdjust="spacingAndGlyphs">BT2</text>
<text x="691.68" y="716.75" font-size="15.7" fill="#4a4a4a" stroke="#4a4a4a" stroke-width="0.3" textLength="46.68" lengthAdjust="spacingAndGlyphs">MGD2</text>
<text transform="translate(18.0 708.52) rotate(-90)" font-size="19.8" fill="#111111" textLength="95.04" lengthAdjust="spacingAndGlyphs">expression</text>
<text transform="translate(18.0 607.60) rotate(-90)" font-size="19.8" fill="#111111" textLength="64.98" lengthAdjust="spacingAndGlyphs">relative</text>
<text transform="translate(18.0 537.86) rotate(-90)" font-size="19.8" fill="#111111" textLength="17.99" lengthAdjust="spacingAndGlyphs">to</text>
<text transform="translate(18.0 514.51) rotate(-90)" font-size="19.8" fill="#111111" textLength="29.24" lengthAdjust="spacingAndGlyphs">the</text>
<text transform="translate(18.0 480.07) rotate(-90)" font-size="19.8" fill="#111111" textLength="95.09" lengthAdjust="spacingAndGlyphs">expression</text>
<text transform="translate(18.0 379.56) rotate(-90)" font-size="19.8" fill="#111111" textLength="17.92" lengthAdjust="spacingAndGlyphs">of</text>
<text transform="translate(18.0 356.89) rotate(-90)" font-size="19.8" fill="#111111" textLength="29.19" lengthAdjust="spacingAndGlyphs">the</text>
<text transform="translate(18.0 322.55) rotate(-90)" font-size="19.8" fill="#111111" textLength="83.05" lengthAdjust="spacingAndGlyphs">reference</text>
<text transform="translate(18.0 234.52) rotate(-90)" font-size="19.8" fill="#111111" textLength="44.62" lengthAdjust="spacingAndGlyphs">gene</text>
<text transform="translate(18.0 184.27) rotate(-90)" font-size="19.8" fill="#111111" font-style="italic" textLength="43.01" lengthAdjust="spacingAndGlyphs">PP2A</text>
<text transform="translate(86.34 827.70) rotate(-60)" font-size="12.9" font-style="italic" fill="#505050" text-anchor="end">col0</text>
<text transform="translate(111.83 827.70) rotate(-60)" font-size="12.9" font-style="italic" fill="#505050" text-anchor="end">sex1</text>
<text transform="translate(137.31 827.70) rotate(-60)" font-size="12.9" font-style="italic" fill="#505050" text-anchor="end">adg1</text>
<text transform="translate(162.80 827.70) rotate(-60)" font-size="12.9" font-style="italic" fill="#505050" text-anchor="end">tpt2</text>
<text transform="translate(188.28 827.70) rotate(-60)" font-size="12.9" font-style="italic" fill="#505050" text-anchor="end">sus 1-4</text>
<text transform="translate(213.77 827.70) rotate(-60)" font-size="12.9" font-style="italic" fill="#505050" text-anchor="end">sus 5/6</text>
<text transform="translate(264.74 827.70) rotate(-60)" font-size="12.9" font-style="italic" fill="#505050" text-anchor="end">col0</text>
<text transform="translate(290.22 827.70) rotate(-60)" font-size="12.9" font-style="italic" fill="#505050" text-anchor="end">sex1</text>
<text transform="translate(315.71 827.70) rotate(-60)" font-size="12.9" font-style="italic" fill="#505050" text-anchor="end">adg1</text>
<text transform="translate(341.19 827.70) rotate(-60)" font-size="12.9" font-style="italic" fill="#505050" text-anchor="end">tpt2</text>
<text transform="translate(366.68 827.70) rotate(-60)" font-size="12.9" font-style="italic" fill="#505050" text-anchor="end">sus 1-4</text>
<text transform="translate(392.16 827.70) rotate(-60)" font-size="12.9" font-style="italic" fill="#505050" text-anchor="end">sus 5/6</text>
<text transform="translate(443.13 827.70) rotate(-60)" font-size="12.9" font-style="italic" fill="#505050" text-anchor="end">col0</text>
<text transform="translate(468.62 827.70) rotate(-60)" font-size="12.9" font-style="italic" fill="#505050" text-anchor="end">sex1</text>
<text transform="translate(494.10 827.70) rotate(-60)" font-size="12.9" font-style="italic" fill="#505050" text-anchor="end">adg1</text>
<text transform="translate(519.59 827.70) rotate(-60)" font-size="12.9" font-style="italic" fill="#505050" text-anchor="end">tpt2</text>
<text transform="translate(545.07 827.70) rotate(-60)" font-size="12.9" font-style="italic" fill="#505050" text-anchor="end">sus 1-4</text>
<text transform="translate(570.56 827.70) rotate(-60)" font-size="12.9" font-style="italic" fill="#505050" text-anchor="end">sus 5/6</text>
<text transform="translate(621.53 827.70) rotate(-60)" font-size="12.9" font-style="italic" fill="#505050" text-anchor="end">col0</text>
<text transform="translate(647.01 827.70) rotate(-60)" font-size="12.9" font-style="italic" fill="#505050" text-anchor="end">sex1</text>
<text transform="translate(672.50 827.70) rotate(-60)" font-size="12.9" font-style="italic" fill="#505050" text-anchor="end">adg1</text>
<text transform="translate(697.98 827.70) rotate(-60)" font-size="12.9" font-style="italic" fill="#505050" text-anchor="end">tpt2</text>
<text transform="translate(723.47 827.70) rotate(-60)" font-size="12.9" font-style="italic" fill="#505050" text-anchor="end">sus 1-4</text>
<text transform="translate(748.95 827.70) rotate(-60)" font-size="12.9" font-style="italic" fill="#505050" text-anchor="end">sus 5/6</text>
<line x1="79.5" y1="881.4" x2="219.25" y2="881.4" stroke="#1a1a1a" stroke-width="1.05"/>
<line x1="255.75" y1="881.4" x2="395.75" y2="881.4" stroke="#1a1a1a" stroke-width="1.05"/>
<line x1="433" y1="881.4" x2="573" y2="881.4" stroke="#1a1a1a" stroke-width="1.05"/>
<line x1="612.5" y1="881.4" x2="752.5" y2="881.4" stroke="#1a1a1a" stroke-width="1.05"/>
<line x1="102.5" y1="916.15" x2="369.7" y2="916.15" stroke="#1a1a1a" stroke-width="1.05"/>
<line x1="457.25" y1="916.15" x2="724.5" y2="916.15" stroke="#1a1a1a" stroke-width="1.05"/>
</svg>
</body>
</html>
